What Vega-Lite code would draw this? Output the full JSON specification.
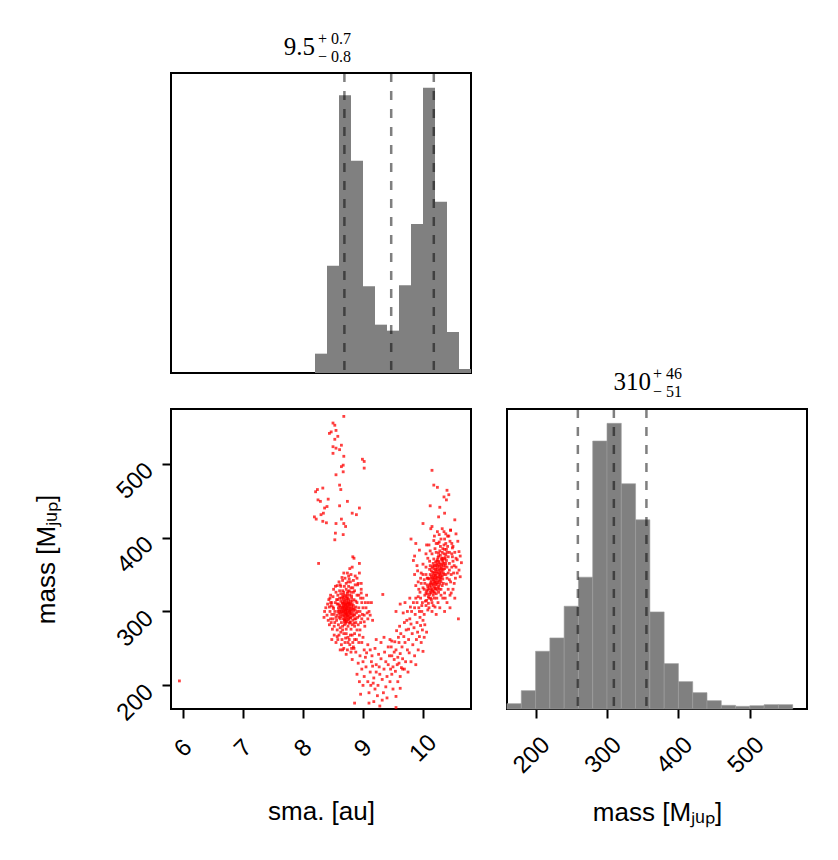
{
 "$schema": "https://vega.github.io/schema/vega-lite/v6.json",
 "background": "white",
 "padding": {"left": 32, "top": 30, "right": 20, "bottom": 20},
 "columns": 2,
 "spacing": 36,
 "bounds": "flush",
 "config": {
  "view": {"stroke": "black", "strokeWidth": 2},
  "axis": {"grid": false, "domain": false, "tickColor": "black", "tickWidth": 2, "tickSize": 9,
   "labelFont": "Liberation Sans", "labelFontSize": 24, "labelColor": "black", "labelAngle": -45,
   "labelAlign": "center", "labelBaseline": "middle", "labelOverlap": false, "labelFlush": false,
   "titleFont": "Liberation Sans", "titleFontSize": 26, "titleFontWeight": "normal", "titleColor": "black"},
  "text": {"font": "Liberation Serif", "color": "black"}
 },
 "concat": [
  {
   "width": 300, "height": 300,
   "data": {"values": [
    {"lo": 8.2, "hi": 8.4, "c": 58}, {"lo": 8.4, "hi": 8.6, "c": 322}, {"lo": 8.6, "hi": 8.8, "c": 833},
    {"lo": 8.8, "hi": 9.0, "c": 637}, {"lo": 9.0, "hi": 9.2, "c": 260}, {"lo": 9.2, "hi": 9.4, "c": 145},
    {"lo": 9.4, "hi": 9.6, "c": 127}, {"lo": 9.6, "hi": 9.8, "c": 263}, {"lo": 9.8, "hi": 10.0, "c": 447},
    {"lo": 10.0, "hi": 10.2, "c": 856}, {"lo": 10.2, "hi": 10.4, "c": 514}, {"lo": 10.4, "hi": 10.6, "c": 123},
    {"lo": 10.6, "hi": 10.8, "c": 12}
   ]},
   "layer": [
    {"mark": {"type": "rect", "color": "#808080"},
     "encoding": {
      "x": {"field": "lo", "type": "quantitative", "scale": {"domain": [5.8, 10.8], "nice": false, "zero": false}, "axis": null},
      "x2": {"field": "hi"},
      "y": {"field": "c", "type": "quantitative", "scale": {"domain": [0, 900], "nice": false}, "axis": null},
      "y2": {"datum": 0}
     }},
    {"data": {"values": [{"q": 8.69}, {"q": 9.47}, {"q": 10.18}]},
     "mark": {"type": "rule", "color": "black", "opacity": 0.5, "strokeDash": [9, 9], "strokeWidth": 2.5},
     "encoding": {"x": {"field": "q", "type": "quantitative"}}},
    {"data": {"values": [{"main": "9.5", "up": "+ 0.7", "down": "− 0.8"}]},
     "layer": [
      {"mark": {"type": "text", "align": "right", "baseline": "alphabetic", "dx": -6, "dy": -18, "fontSize": 25},
       "encoding": {"x": {"datum": 8.3, "type": "quantitative"}, "y": {"datum": 900, "type": "quantitative"}, "text": {"field": "main"}}},
      {"mark": {"type": "text", "align": "left", "baseline": "alphabetic", "dx": -3, "dy": -29, "fontSize": 16},
       "encoding": {"x": {"datum": 8.3, "type": "quantitative"}, "y": {"datum": 900, "type": "quantitative"}, "text": {"field": "up"}}},
      {"mark": {"type": "text", "align": "left", "baseline": "alphabetic", "dx": -3, "dy": -11, "fontSize": 16},
       "encoding": {"x": {"datum": 8.3, "type": "quantitative"}, "y": {"datum": 900, "type": "quantitative"}, "text": {"field": "down"}}}
     ]}
   ]
  },
  {
   "width": 300, "height": 300,
   "view": {"stroke": null},
   "data": {"values": [{"t": ""}]},
   "mark": "text",
   "encoding": {"text": {"field": "t"}}
  },
  {
   "width": 300, "height": 300,
   "data": {"values": [
    {"s":8.50,"m":555},{"s":8.53,"m":552},{"s":8.47,"m":543},{"s":8.44,"m":541},{"s":8.55,"m":545},{"s":8.58,"m":537},{"s":8.53,"m":533},{"s":8.50,"m":523},{"s":8.55,"m":521},{"s":8.64,"m":525},{"s":8.61,"m":519},{"s":8.50,"m":514},{"s":8.68,"m":510},{"s":8.67,"m":498},{"s":8.64,"m":496},{"s":8.67,"m":489},{"s":8.55,"m":485},{"s":8.68,"m":564},{"s":8.99,"m":506},{"s":9.02,"m":503},{"s":9.02,"m":494},{"s":8.61,"m":471},{"s":8.63,"m":465},
    {"s":8.21,"m":462},{"s":8.24,"m":465},{"s":8.33,"m":467},{"s":8.25,"m":451},{"s":8.29,"m":449},{"s":8.42,"m":452},{"s":8.36,"m":440},{"s":8.40,"m":442},{"s":8.19,"m":428},{"s":8.22,"m":425},{"s":8.30,"m":431},{"s":8.34,"m":433},{"s":8.33,"m":422},{"s":8.39,"m":420},{"s":8.61,"m":443},{"s":8.74,"m":449},{"s":8.82,"m":433},{"s":8.89,"m":431},{"s":8.94,"m":440},{"s":8.64,"m":425},{"s":8.68,"m":419},{"s":8.71,"m":415},{"s":8.55,"m":419},{"s":8.54,"m":406},{"s":8.53,"m":397},{"s":8.67,"m":404},{"s":8.26,"m":365},{"s":8.83,"m":374},{"s":8.94,"m":365},{"s":9.33,"m":323},{"s":5.94,"m":206},
    {"s":10.15,"m":491},{"s":10.18,"m":471},{"s":10.24,"m":468},{"s":10.40,"m":464},{"s":10.43,"m":458},{"s":10.35,"m":455},{"s":10.39,"m":451},{"s":10.12,"m":443},{"s":10.28,"m":441},{"s":10.36,"m":433},{"s":10.26,"m":428},{"s":10.53,"m":424},{"s":10.00,"m":419},{"s":10.15,"m":415},{"s":10.46,"m":410},
    {"s":10.22,"m":345},{"s":10.18,"m":338},{"s":10.25,"m":352},{"s":10.15,"m":330},{"s":10.30,"m":360},{"s":10.20,"m":349},{"s":10.12,"m":326},{"s":10.27,"m":341},{"s":10.33,"m":366},{"s":10.09,"m":320},{"s":10.24,"m":357},{"s":10.19,"m":333},{"s":10.36,"m":371},{"s":10.14,"m":341},{"s":10.29,"m":349},{"s":10.06,"m":315},{"s":10.21,"m":362},{"s":10.17,"m":322},{"s":10.32,"m":355},{"s":10.11,"m":335},{"s":10.26,"m":368},{"s":10.23,"m":329},{"s":10.38,"m":377},{"s":10.08,"m":329},{"s":10.16,"m":353},{"s":10.28,"m":337},{"s":10.34,"m":362},{"s":10.13,"m":318},{"s":10.20,"m":340},{"s":10.31,"m":372},
    {"s":10.05,"m":308},{"s":10.24,"m":346},{"s":10.19,"m":358},{"s":10.27,"m":330},{"s":10.10,"m":344},{"s":10.35,"m":350},{"s":10.22,"m":324},{"s":10.17,"m":365},{"s":10.40,"m":380},{"s":10.07,"m":336},{"s":10.29,"m":357},{"s":10.15,"m":312},{"s":10.33,"m":344},{"s":10.21,"m":336},{"s":10.26,"m":375},{"s":10.12,"m":350},{"s":10.37,"m":362},{"s":10.18,"m":327},{"s":10.03,"m":322},{"s":10.30,"m":346},{"s":10.23,"m":364},{"s":10.14,"m":333},{"s":10.39,"m":369},{"s":10.25,"m":339},{"s":10.09,"m":311},{"s":10.28,"m":382},{"s":10.20,"m":354},{"s":10.16,"m":345},{"s":10.32,"m":335},{"s":10.11,"m":357},
    {"s":10.35,"m":378},{"s":10.06,"m":328},{"s":10.27,"m":361},{"s":10.19,"m":318},{"s":10.24,"m":370},{"s":10.42,"m":374},{"s":10.13,"m":339},{"s":10.30,"m":352},{"s":10.21,"m":331},{"s":10.17,"m":349},{"s":10.34,"m":357},{"s":10.08,"m":345},{"s":10.26,"m":326},{"s":10.22,"m":380},{"s":10.15,"m":359},{"s":10.38,"m":365},{"s":10.04,"m":314},{"s":10.29,"m":343},{"s":10.18,"m":371},{"s":10.31,"m":363},{"s":10.10,"m":331},{"s":10.36,"m":384},{"s":10.23,"m":337},{"s":10.14,"m":325},{"s":10.27,"m":350},{"s":10.20,"m":306},{"s":10.33,"m":372},{"s":10.12,"m":362},{"s":10.25,"m":332},{"s":10.19,"m":341},
    {"s":10.21,"m":348},{"s":10.24,"m":342},{"s":10.18,"m":352},{"s":10.27,"m":356},{"s":10.15,"m":337},{"s":10.29,"m":364},{"s":10.20,"m":331},{"s":10.23,"m":368},{"s":10.13,"m":345},{"s":10.31,"m":358},{"s":10.19,"m":362},{"s":10.26,"m":347},{"s":10.16,"m":328},{"s":10.33,"m":369},{"s":10.22,"m":339},{"s":10.11,"m":323},{"s":10.28,"m":353},{"s":10.25,"m":373},{"s":10.17,"m":343},{"s":10.35,"m":365},
    {"s":10.14,"m":355},{"s":10.30,"m":340},{"s":10.21,"m":357},{"s":10.08,"m":333},{"s":10.27,"m":366},{"s":10.19,"m":325},{"s":10.34,"m":352},{"s":10.24,"m":360},{"s":10.12,"m":337},{"s":10.29,"m":376},{"s":10.22,"m":351},{"s":10.16,"m":361},{"s":10.37,"m":373},{"s":10.20,"m":344},{"s":10.26,"m":334},{"s":10.10,"m":318},{"s":10.32,"m":348},{"s":10.18,"m":346},{"s":10.25,"m":363},{"s":10.23,"m":354},
    {"s":10.14,"m":348},{"s":10.31,"m":370},{"s":10.28,"m":345},{"s":10.07,"m":324},{"s":10.36,"m":358},{"s":10.21,"m":367},{"s":10.17,"m":336},{"s":10.26,"m":379},{"s":10.13,"m":329},{"s":10.39,"m":384},
    {"s":10.40,"m":345},{"s":10.44,"m":365},{"s":10.48,"m":378},{"s":10.38,"m":392},{"s":10.33,"m":385},{"s":10.42,"m":330},{"s":10.37,"m":318},{"s":10.51,"m":352},{"s":10.46,"m":340},{"s":10.55,"m":360},{"s":10.03,"m":338},{"s":10.00,"m":350},{"s":9.97,"m":338},{"s":10.05,"m":360},{"s":10.08,"m":372},{"s":10.12,"m":382},{"s":10.15,"m":378},{"s":10.20,"m":385},{"s":10.27,"m":394},{"s":10.32,"m":380},
    {"s":10.10,"m":305},{"s":10.17,"m":308},{"s":10.25,"m":312},{"s":10.33,"m":318},{"s":10.05,"m":325},{"s":9.93,"m":330},{"s":9.96,"m":345},{"s":9.90,"m":312},{"s":9.88,"m":335},{"s":9.94,"m":300},{"s":10.43,"m":402},{"s":10.36,"m":398},{"s":10.29,"m":388},{"s":10.22,"m":392},{"s":10.48,"m":392},{"s":10.53,"m":380},{"s":10.57,"m":370},{"s":10.40,"m":360},{"s":10.45,"m":322},{"s":10.30,"m":330},
    {"s":9.99,"m":312},{"s":10.02,"m":330},{"s":10.07,"m":345},{"s":10.11,"m":368},{"s":10.38,"m":350},{"s":10.34,"m":338},{"s":10.44,"m":356},{"s":10.50,"m":368},{"s":10.23,"m":318},{"s":10.14,"m":316},{"s":9.86,"m":350},{"s":9.91,"m":355},{"s":10.06,"m":390},{"s":10.19,"m":402},{"s":10.27,"m":404},{"s":10.60,"m":356},{"s":10.62,"m":375},{"s":10.54,"m":345},{"s":10.49,"m":386},{"s":10.35,"m":408},
    {"s":10.45,"m":395},{"s":10.50,"m":388},{"s":10.41,"m":402},{"s":10.55,"m":372},{"s":10.60,"m":381},{"s":10.48,"m":360},{"s":10.57,"m":352},{"s":10.44,"m":343},{"s":10.64,"m":366},{"s":10.52,"m":338},{"s":10.46,"m":410},{"s":10.38,"m":405},{"s":10.30,"m":398},{"s":10.25,"m":392},{"s":10.35,"m":390},{"s":10.42,"m":352},{"s":10.47,"m":325},{"s":10.53,"m":318},{"s":10.40,"m":312},{"s":10.36,"m":300},
    {"s":10.30,"m":322},{"s":10.22,"m":296},{"s":10.15,"m":300},{"s":10.08,"m":302},{"s":10.02,"m":296},{"s":9.98,"m":308},{"s":9.95,"m":326},{"s":9.92,"m":340},{"s":9.97,"m":352},{"s":10.00,"m":364},{"s":10.05,"m":378},{"s":9.90,"m":362},{"s":9.86,"m":375},{"s":9.84,"m":369},{"s":9.94,"m":383},{"s":10.10,"m":390},{"s":10.18,"m":396},{"s":10.24,"m":408},{"s":10.13,"m":412},{"s":10.32,"m":412},
    {"s":10.05,"m":350},{"s":10.00,"m":332},{"s":10.02,"m":343},{"s":9.96,"m":318},{"s":10.58,"m":395},{"s":10.62,"m":347},{"s":10.49,"m":374},{"s":10.55,"m":405},{"s":10.44,"m":380},{"s":10.39,"m":337},{"s":10.50,"m":330},{"s":10.36,"m":325},{"s":10.45,"m":305},{"s":10.59,"m":290},{"s":9.88,"m":392},{"s":9.80,"m":398},{"s":10.52,"m":362},{"s":10.47,"m":350},{"s":10.41,"m":388},{"s":10.28,"m":305},
    {"s":9.98,"m":300},{"s":9.95,"m":292},{"s":9.90,"m":285},{"s":9.93,"m":305},{"s":9.87,"m":296},{"s":9.85,"m":278},{"s":9.80,"m":283},{"s":9.82,"m":270},{"s":9.78,"m":290},{"s":9.76,"m":262},{"s":9.72,"m":275},{"s":9.70,"m":258},{"s":9.74,"m":248},{"s":9.68,"m":266},{"s":9.65,"m":252},{"s":9.62,"m":243},{"s":9.60,"m":258},{"s":9.66,"m":236},{"s":9.58,"m":238},{"s":9.55,"m":248},
    {"s":9.57,"m":228},{"s":9.52,"m":235},{"s":9.50,"m":225},{"s":9.54,"m":219},{"s":9.48,"m":240},{"s":9.63,"m":270},{"s":9.69,"m":285},{"s":9.74,"m":300},{"s":9.79,"m":306},{"s":9.84,"m":312},{"s":9.88,"m":318},{"s":9.91,"m":272},{"s":9.96,"m":281},{"s":10.00,"m":288},{"s":10.03,"m":282},{"s":9.89,"m":262},{"s":9.83,"m":255},{"s":9.77,"m":244},{"s":9.71,"m":232},{"s":9.64,"m":224},
    {"s":9.81,"m":300},{"s":9.86,"m":305},{"s":9.92,"m":320},{"s":9.99,"m":275},{"s":9.94,"m":266},{"s":9.76,"m":276},{"s":9.73,"m":288},{"s":9.67,"m":298},{"s":9.61,"m":280},{"s":9.59,"m":265},{"s":9.56,"m":274},{"s":9.53,"m":259},{"s":9.47,"m":252},{"s":9.45,"m":262},{"s":9.86,"m":240},{"s":9.92,"m":248},{"s":9.97,"m":258},{"s":10.02,"m":265},{"s":10.06,"m":272},{"s":9.80,"m":232},
    {"s":9.75,"m":218},{"s":9.69,"m":222},{"s":9.88,"m":228},{"s":10.00,"m":246},{"s":9.62,"m":310},{"s":9.55,"m":300},{"s":9.70,"m":312},{"s":9.78,"m":318},
    {"s":9.05,"m":225},{"s":9.12,"m":218},{"s":9.00,"m":232},{"s":9.18,"m":210},{"s":9.22,"m":228},{"s":9.08,"m":205},{"s":9.28,"m":215},{"s":9.15,"m":240},{"s":8.95,"m":240},{"s":8.98,"m":222},{"s":9.25,"m":200},{"s":9.32,"m":208},{"s":9.35,"m":222},{"s":9.40,"m":212},{"s":9.20,"m":195},{"s":9.10,"m":190},{"s":9.02,"m":212},{"s":8.92,"m":230},{"s":8.88,"m":245},{"s":8.85,"m":250},
    {"s":9.30,"m":236},{"s":9.38,"m":198},{"s":9.45,"m":205},{"s":9.42,"m":228},{"s":9.48,"m":215},{"s":9.16,"m":226},{"s":9.06,"m":244},{"s":9.26,"m":242},{"s":9.13,"m":200},{"s":9.24,"m":186},{"s":9.34,"m":190},{"s":9.18,"m":178},{"s":9.40,"m":183},{"s":9.50,"m":195},{"s":9.58,"m":205},{"s":9.55,"m":185},{"s":9.62,"m":212},{"s":9.28,"m":172},{"s":9.10,"m":176},{"s":9.00,"m":200},
    {"s":8.96,"m":188},{"s":9.36,"m":245},{"s":9.44,"m":240},{"s":9.20,"m":250},{"s":9.08,"m":255},{"s":8.98,"m":258},{"s":9.02,"m":248},{"s":8.90,"m":215},{"s":8.82,"m":235},{"s":9.32,"m":180},{"s":9.22,"m":218},{"s":9.14,"m":232},{"s":9.04,"m":238},{"s":9.46,"m":222},{"s":9.52,"m":245},{"s":9.60,"m":230},{"s":9.38,"m":232},{"s":9.27,"m":225},{"s":9.17,"m":203},{"s":8.94,"m":205},
    {"s":9.12,"m":248},{"s":9.30,"m":258},{"s":9.42,"m":252},{"s":9.48,"m":260},{"s":9.35,"m":265},{"s":9.22,"m":262},{"s":9.62,"m":196},{"s":9.66,"m":222},{"s":8.86,"m":176},{"s":9.55,"m":170},
    {"s":8.72,"m":302},{"s":8.68,"m":310},{"s":8.75,"m":295},{"s":8.70,"m":288},{"s":8.78,"m":305},{"s":8.65,"m":298},{"s":8.73,"m":318},{"s":8.80,"m":292},{"s":8.62,"m":306},{"s":8.76,"m":312},{"s":8.69,"m":282},{"s":8.84,"m":300},{"s":8.66,"m":320},{"s":8.71,"m":296},{"s":8.79,"m":285},{"s":8.60,"m":292},{"s":8.74,"m":325},{"s":8.82,"m":310},{"s":8.67,"m":290},{"s":8.77,"m":298},
    {"s":8.63,"m":314},{"s":8.70,"m":308},{"s":8.86,"m":295},{"s":8.58,"m":300},{"s":8.73,"m":286},{"s":8.81,"m":318},{"s":8.68,"m":326},{"s":8.75,"m":280},{"s":8.64,"m":285},{"s":8.79,"m":314},{"s":8.71,"m":300},{"s":8.88,"m":306},{"s":8.61,"m":318},{"s":8.76,"m":290},{"s":8.69,"m":304},{"s":8.83,"m":288},{"s":8.66,"m":312},{"s":8.74,"m":308},{"s":8.57,"m":295},{"s":8.80,"m":300},
    {"s":8.72,"m":330},{"s":8.85,"m":316},{"s":8.62,"m":296},{"s":8.78,"m":322},{"s":8.67,"m":300},{"s":8.73,"m":292},{"s":8.89,"m":298},{"s":8.59,"m":310},{"s":8.76,"m":304},{"s":8.70,"m":316},{"s":8.82,"m":282},{"s":8.65,"m":306},{"s":8.77,"m":328},{"s":8.71,"m":284},{"s":8.84,"m":308},{"s":8.60,"m":302},{"s":8.74,"m":312},{"s":8.68,"m":294},{"s":8.86,"m":290},{"s":8.63,"m":324},
    {"s":8.79,"m":296},{"s":8.72,"m":310},{"s":8.56,"m":288},{"s":8.81,"m":304},{"s":8.69,"m":334},{"s":8.75,"m":318},{"s":8.66,"m":280},{"s":8.90,"m":312},{"s":8.73,"m":298},{"s":8.62,"m":290},{"s":8.78,"m":286},{"s":8.70,"m":322},{"s":8.87,"m":302},{"s":8.64,"m":300},{"s":8.76,"m":334},{"s":8.83,"m":294},{"s":8.67,"m":316},{"s":8.72,"m":276},{"s":8.80,"m":326},{"s":8.58,"m":316},
    {"s":8.74,"m":302},{"s":8.69,"m":298},{"s":8.85,"m":284},{"s":8.61,"m":308},{"s":8.77,"m":310},{"s":8.71,"m":290},{"s":8.91,"m":292},{"s":8.66,"m":328},{"s":8.79,"m":302},{"s":8.73,"m":306},
    {"s":8.71,"m":305},{"s":8.74,"m":299},{"s":8.69,"m":313},{"s":8.77,"m":301},{"s":8.66,"m":295},{"s":8.73,"m":315},{"s":8.70,"m":293},{"s":8.78,"m":309},{"s":8.64,"m":303},{"s":8.75,"m":289},{"s":8.68,"m":319},{"s":8.80,"m":297},{"s":8.72,"m":287},{"s":8.76,"m":316},{"s":8.67,"m":308},{"s":8.83,"m":303},{"s":8.62,"m":300},{"s":8.74,"m":322},{"s":8.69,"m":289},{"s":8.79,"m":311},
    {"s":8.71,"m":297},{"s":8.65,"m":311},{"s":8.77,"m":293},{"s":8.73,"m":304},{"s":8.81,"m":307},{"s":8.68,"m":301},{"s":8.75,"m":327},{"s":8.63,"m":293},{"s":8.78,"m":300},{"s":8.70,"m":312},{"s":8.84,"m":296},{"s":8.66,"m":304},{"s":8.72,"m":320},{"s":8.60,"m":298},{"s":8.76,"m":307},{"s":8.69,"m":286},{"s":8.82,"m":314},{"s":8.74,"m":294},{"s":8.67,"m":323},{"s":8.79,"m":291},
    {"s":8.71,"m":309},{"s":8.85,"m":304},{"s":8.64,"m":318},{"s":8.77,"m":284},{"s":8.70,"m":302},{"s":8.59,"m":305},{"s":8.73,"m":296},{"s":8.81,"m":321},{"s":8.68,"m":306},{"s":8.75,"m":311},
    {"s":8.45,"m":318},{"s":8.50,"m":306},{"s":8.55,"m":292},{"s":8.58,"m":322},{"s":8.52,"m":280},{"s":8.60,"m":340},{"s":8.62,"m":278},{"s":8.57,"m":310},{"s":8.48,"m":296},{"s":8.54,"m":334},{"s":8.90,"m":322},{"s":8.93,"m":305},{"s":8.88,"m":290},{"s":8.96,"m":318},{"s":9.00,"m":305},{"s":8.92,"m":282},{"s":8.87,"m":348},{"s":8.84,"m":326},{"s":8.91,"m":336},{"s":9.04,"m":312},
    {"s":8.98,"m":290},{"s":9.07,"m":298},{"s":8.95,"m":275},{"s":8.86,"m":270},{"s":8.80,"m":276},{"s":8.77,"m":262},{"s":8.83,"m":258},{"s":8.89,"m":262},{"s":8.71,"m":264},{"s":8.64,"m":255},{"s":8.59,"m":282},{"s":8.53,"m":300},{"s":8.47,"m":285},{"s":8.44,"m":306},{"s":8.56,"m":316},{"s":8.61,"m":328},{"s":8.65,"m":346},{"s":8.74,"m":352},{"s":8.79,"m":340},{"s":8.83,"m":332},
    {"s":8.88,"m":314},{"s":8.94,"m":294},{"s":9.02,"m":286},{"s":8.97,"m":338},{"s":9.09,"m":312},{"s":9.12,"m":295},{"s":8.68,"m":270},{"s":8.75,"m":258},{"s":8.81,"m":250},{"s":8.66,"m":248},{"s":8.79,"m":268},{"s":8.72,"m":242},{"s":8.86,"m":280},{"s":8.57,"m":266},{"s":8.50,"m":290},{"s":8.63,"m":334},{"s":8.77,"m":344},{"s":8.91,"m":300},{"s":8.97,"m":325},{"s":8.46,"m":312},
    {"s":8.45,"m":300},{"s":8.40,"m":295},{"s":8.38,"m":305},{"s":8.42,"m":288},{"s":8.48,"m":312},{"s":8.35,"m":292},{"s":8.50,"m":320},{"s":8.44,"m":282},{"s":8.52,"m":296},{"s":8.47,"m":308},{"s":8.36,"m":300},{"s":8.53,"m":285},{"s":8.49,"m":276},{"s":8.55,"m":326},{"s":8.51,"m":304},{"s":8.43,"m":316},{"s":8.57,"m":275},{"s":8.46,"m":290},{"s":8.54,"m":312},{"s":8.41,"m":310},
    {"s":8.95,"m":300},{"s":8.98,"m":312},{"s":9.02,"m":295},{"s":8.96,"m":285},{"s":9.05,"m":305},{"s":8.93,"m":322},{"s":9.00,"m":318},{"s":9.08,"m":290},{"s":8.97,"m":330},{"s":9.10,"m":300},{"s":9.03,"m":280},{"s":9.14,"m":312},{"s":8.99,"m":296},{"s":9.06,"m":322},{"s":9.16,"m":288},{"s":8.70,"m":345},{"s":8.75,"m":340},{"s":8.80,"m":350},{"s":8.68,"m":352},{"s":8.78,"m":358},
    {"s":8.84,"m":342},{"s":8.72,"m":338},{"s":8.87,"m":336},{"s":8.82,"m":360},{"s":8.66,"m":342},{"s":8.90,"m":345},{"s":8.76,"m":348},{"s":8.94,"m":352},{"s":8.62,"m":336},{"s":8.86,"m":328},{"s":8.92,"m":338},{"s":8.85,"m":372},{"s":8.80,"m":332},{"s":8.60,"m":268},{"s":8.65,"m":262},{"s":8.70,"m":258},{"s":8.75,"m":265},{"s":8.68,"m":250},{"s":8.78,"m":255},{"s":8.63,"m":272},
    {"s":8.82,"m":268},{"s":8.72,"m":270},{"s":8.58,"m":262},{"s":8.86,"m":262},{"s":8.74,"m":248},{"s":8.55,"m":258},{"s":8.80,"m":245},{"s":8.66,"m":275},{"s":8.90,"m":275},{"s":8.94,"m":268},{"s":8.62,"m":248},{"s":8.52,"m":268},{"s":8.88,"m":285},{"s":9.00,"m":265},{"s":8.48,"m":262},{"s":8.57,"m":335},{"s":8.51,"m":330},{"s":8.46,"m":322},{"s":8.93,"m":258},{"s":8.84,"m":252}
   ]},
   "mark": {"type": "square", "color": "#ff0000", "size": 8, "opacity": 0.75},
   "encoding": {
    "x": {"field": "s", "type": "quantitative", "scale": {"domain": [5.8, 10.8], "nice": false, "zero": false},
     "axis": {"values": [6, 7, 8, 9, 10], "title": "sma. [au]", "labelPadding": 30, "titlePadding": 33}},
    "y": {"field": "m", "type": "quantitative", "scale": {"domain": [168, 574], "nice": false, "zero": false},
     "axis": {"values": [200, 300, 400, 500], "title": "mass [Mⱼᵤₚ]", "labelPadding": 27, "labelOffset": 17, "titlePadding": 53}}
   }
  },
  {
   "width": 300, "height": 300,
   "data": {"values": [
    {"lo": 160, "hi": 180, "c": 16}, {"lo": 180, "hi": 200, "c": 55}, {"lo": 200, "hi": 220, "c": 173},
    {"lo": 220, "hi": 240, "c": 213}, {"lo": 240, "hi": 260, "c": 308}, {"lo": 260, "hi": 280, "c": 395},
    {"lo": 280, "hi": 300, "c": 803}, {"lo": 300, "hi": 320, "c": 856}, {"lo": 320, "hi": 340, "c": 675},
    {"lo": 340, "hi": 360, "c": 567}, {"lo": 360, "hi": 380, "c": 291}, {"lo": 380, "hi": 400, "c": 136},
    {"lo": 400, "hi": 420, "c": 82}, {"lo": 420, "hi": 440, "c": 49}, {"lo": 440, "hi": 460, "c": 25},
    {"lo": 460, "hi": 480, "c": 11}, {"lo": 480, "hi": 500, "c": 8}, {"lo": 500, "hi": 520, "c": 10},
    {"lo": 520, "hi": 540, "c": 13}, {"lo": 540, "hi": 560, "c": 13}
   ]},
   "layer": [
    {"mark": {"type": "rect", "color": "#808080", "stroke": "#9c9c9c", "strokeWidth": 0.6},
     "encoding": {
      "x": {"field": "lo", "type": "quantitative", "scale": {"domain": [160, 580], "nice": false, "zero": false},
       "axis": {"values": [200, 300, 400, 500], "title": "mass [Mⱼᵤₚ]", "labelPadding": 37, "labelOffset": -4, "titlePadding": 22}},
      "x2": {"field": "hi"},
      "y": {"field": "c", "type": "quantitative", "scale": {"domain": [0, 899], "nice": false}, "axis": null},
      "y2": {"datum": 0}
     }},
    {"data": {"values": [{"q": 259.2}, {"q": 309.6}, {"q": 355.2}]},
     "mark": {"type": "rule", "color": "black", "opacity": 0.5, "strokeDash": [9, 9], "strokeWidth": 2.5},
     "encoding": {"x": {"field": "q", "type": "quantitative"}}},
    {"data": {"values": [{"main": "310", "up": "+ 46", "down": "− 51"}]},
     "layer": [
      {"mark": {"type": "text", "align": "right", "baseline": "alphabetic", "dx": -6, "dy": -19, "fontSize": 25},
       "encoding": {"x": {"datum": 370, "type": "quantitative"}, "y": {"datum": 899, "type": "quantitative"}, "text": {"field": "main"}}},
      {"mark": {"type": "text", "align": "left", "baseline": "alphabetic", "dx": -4, "dy": -30, "fontSize": 16},
       "encoding": {"x": {"datum": 370, "type": "quantitative"}, "y": {"datum": 899, "type": "quantitative"}, "text": {"field": "up"}}},
      {"mark": {"type": "text", "align": "left", "baseline": "alphabetic", "dx": -4, "dy": -12, "fontSize": 16},
       "encoding": {"x": {"datum": 370, "type": "quantitative"}, "y": {"datum": 899, "type": "quantitative"}, "text": {"field": "down"}}}
     ]}
   ]
  }
 ]
}
